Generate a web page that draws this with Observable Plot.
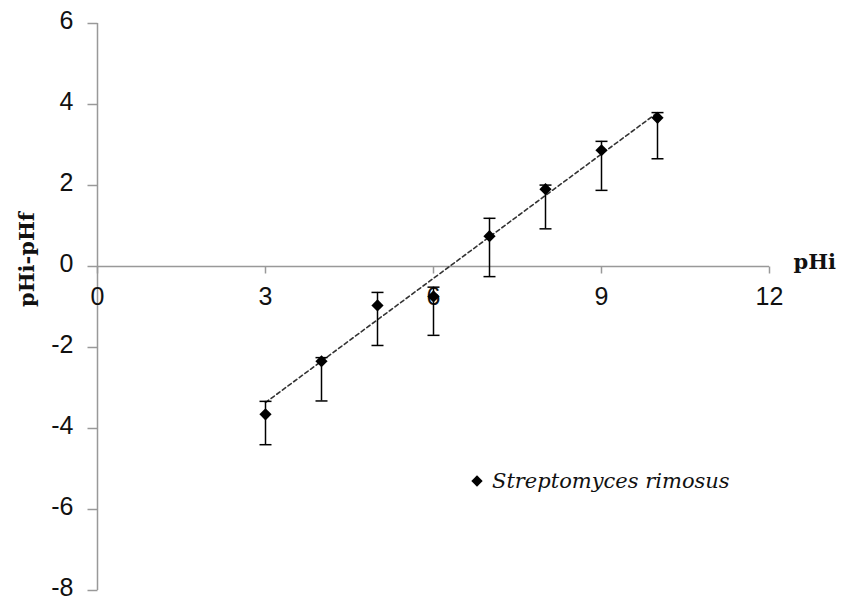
<!DOCTYPE html>
<html>
<head>
<meta charset="utf-8">
<script src="https://cdn.jsdelivr.net/npm/d3@7"></script>
<script src="https://cdn.jsdelivr.net/npm/@observablehq/plot@0.6"></script>
<style>
  html, body { margin: 0; padding: 0; background: #fff; }
  #wrap { position: relative; width: 842px; height: 601px; }
  #legend { position: absolute; left: 473px; top: 469px; display: flex; align-items: center;
    font-family: "DejaVu Serif", serif; font-style: italic; font-size: 21px; color: #111; }
  #legend .sw { width: 8px; height: 8px; background: #000; transform: rotate(45deg); margin-right: 11px; }
</style>
</head>
<body>
<div id="wrap"><div id="legend"><span class="sw"></span><span>Streptomyces rimosus</span></div></div>
<script>
const phInitial = [3, 4, 5, 6, 7, 8, 9, 10];
const phDiff    = [-3.65, -2.34, -0.96, -0.74, 0.75, 1.91, 2.87, 3.67];
const errHigh   = [-3.33, -2.25, -0.64, -0.51, 1.19, 2.01, 3.09, 3.80];
const errLow    = [-4.40, -3.32, -1.95, -1.70, -0.25, 0.93, 1.88, 2.66];
const trendX    = [3, 10];
const trendY    = [-3.36, 3.80];
const xTicks    = [0, 3, 6, 9, 12];
const yTicks    = [-8, -6, -4, -2, 0, 2, 4, 6];
const seriesName = "Streptomyces rimosus";

const data = phInitial.map((x, i) => ({x, y: phDiff[i], hi: errHigh[i], lo: errLow[i]}));
const trend = trendX.map((x, i) => ({x, y: trendY[i]}));

const capSymbol = {draw(ctx) { ctx.moveTo(-6, 0); ctx.lineTo(6, 0); }};
const tickDown  = {draw(ctx) { ctx.moveTo(0, 0); ctx.lineTo(0, 7); }};
const tickLeft  = {draw(ctx) { ctx.moveTo(0, 0); ctx.lineTo(-10, 0); }};

const chart = Plot.plot({
  width: 842,
  height: 601,
  marginLeft: 97,
  marginRight: 73,
  marginTop: 23,
  marginBottom: 11,
  style: {fontFamily: "Liberation Sans, Arial, sans-serif", background: "#fff", overflow: "visible"},
  x: {domain: [0, 12], axis: null},
  y: {domain: [-8, 6], axis: null},
  marks: [
    Plot.ruleX([0], {y1: -8, y2: 6, stroke: "#999", strokeWidth: 1.5}),
    Plot.dot(yTicks, {x: 0, y: d => d, symbol: tickLeft, stroke: "#999", strokeWidth: 1.5}),
    Plot.text(yTicks, {x: 0, y: d => d, dx: -24, dy: -3, textAnchor: "end", text: d => String(d),
      fontSize: 25, fill: "#111"}),
    Plot.ruleY([0], {x1: 0, x2: 12, stroke: "#999", strokeWidth: 1.5}),
    Plot.dot(xTicks, {x: d => d, y: 0, symbol: tickDown, stroke: "#999", strokeWidth: 1.5}),
    Plot.text(xTicks, {x: d => d, y: 0, dy: 30, text: d => String(d), fontSize: 25, fill: "#111"}),
    Plot.text(["pHi"], {x: 12, y: 0, dx: 24, dy: -4, textAnchor: "start", fontSize: 21,
      fontFamily: "DejaVu Serif, serif", fontWeight: "bold", fill: "#111"}),
    Plot.text(["pHi-pHf"], {frameAnchor: "left", dx: -70, rotate: -90, fontSize: 21,
      fontFamily: "DejaVu Serif, serif", fontWeight: "bold", fill: "#111"}),
    Plot.line(trend, {x: "x", y: "y", stroke: "#333", strokeWidth: 1.6, strokeDasharray: "4,3"}),
    Plot.ruleX(data, {x: "x", y1: "lo", y2: "hi", stroke: "#000", strokeWidth: 1.5}),
    Plot.dot(data, {x: "x", y: "hi", symbol: capSymbol, stroke: "#000", strokeWidth: 1.5}),
    Plot.dot(data, {x: "x", y: "lo", symbol: capSymbol, stroke: "#000", strokeWidth: 1.5}),
    Plot.dot(data, {x: "x", y: "y", symbol: "diamond2", r: 5.5, fill: "#000", stroke: "none"})
  ]
});
chart.style.position = "absolute";
chart.style.left = "0";
chart.style.top = "0";
document.getElementById("wrap").prepend(chart);
document.querySelector("#legend span:last-child").textContent = seriesName;
</script>
</body>
</html>
